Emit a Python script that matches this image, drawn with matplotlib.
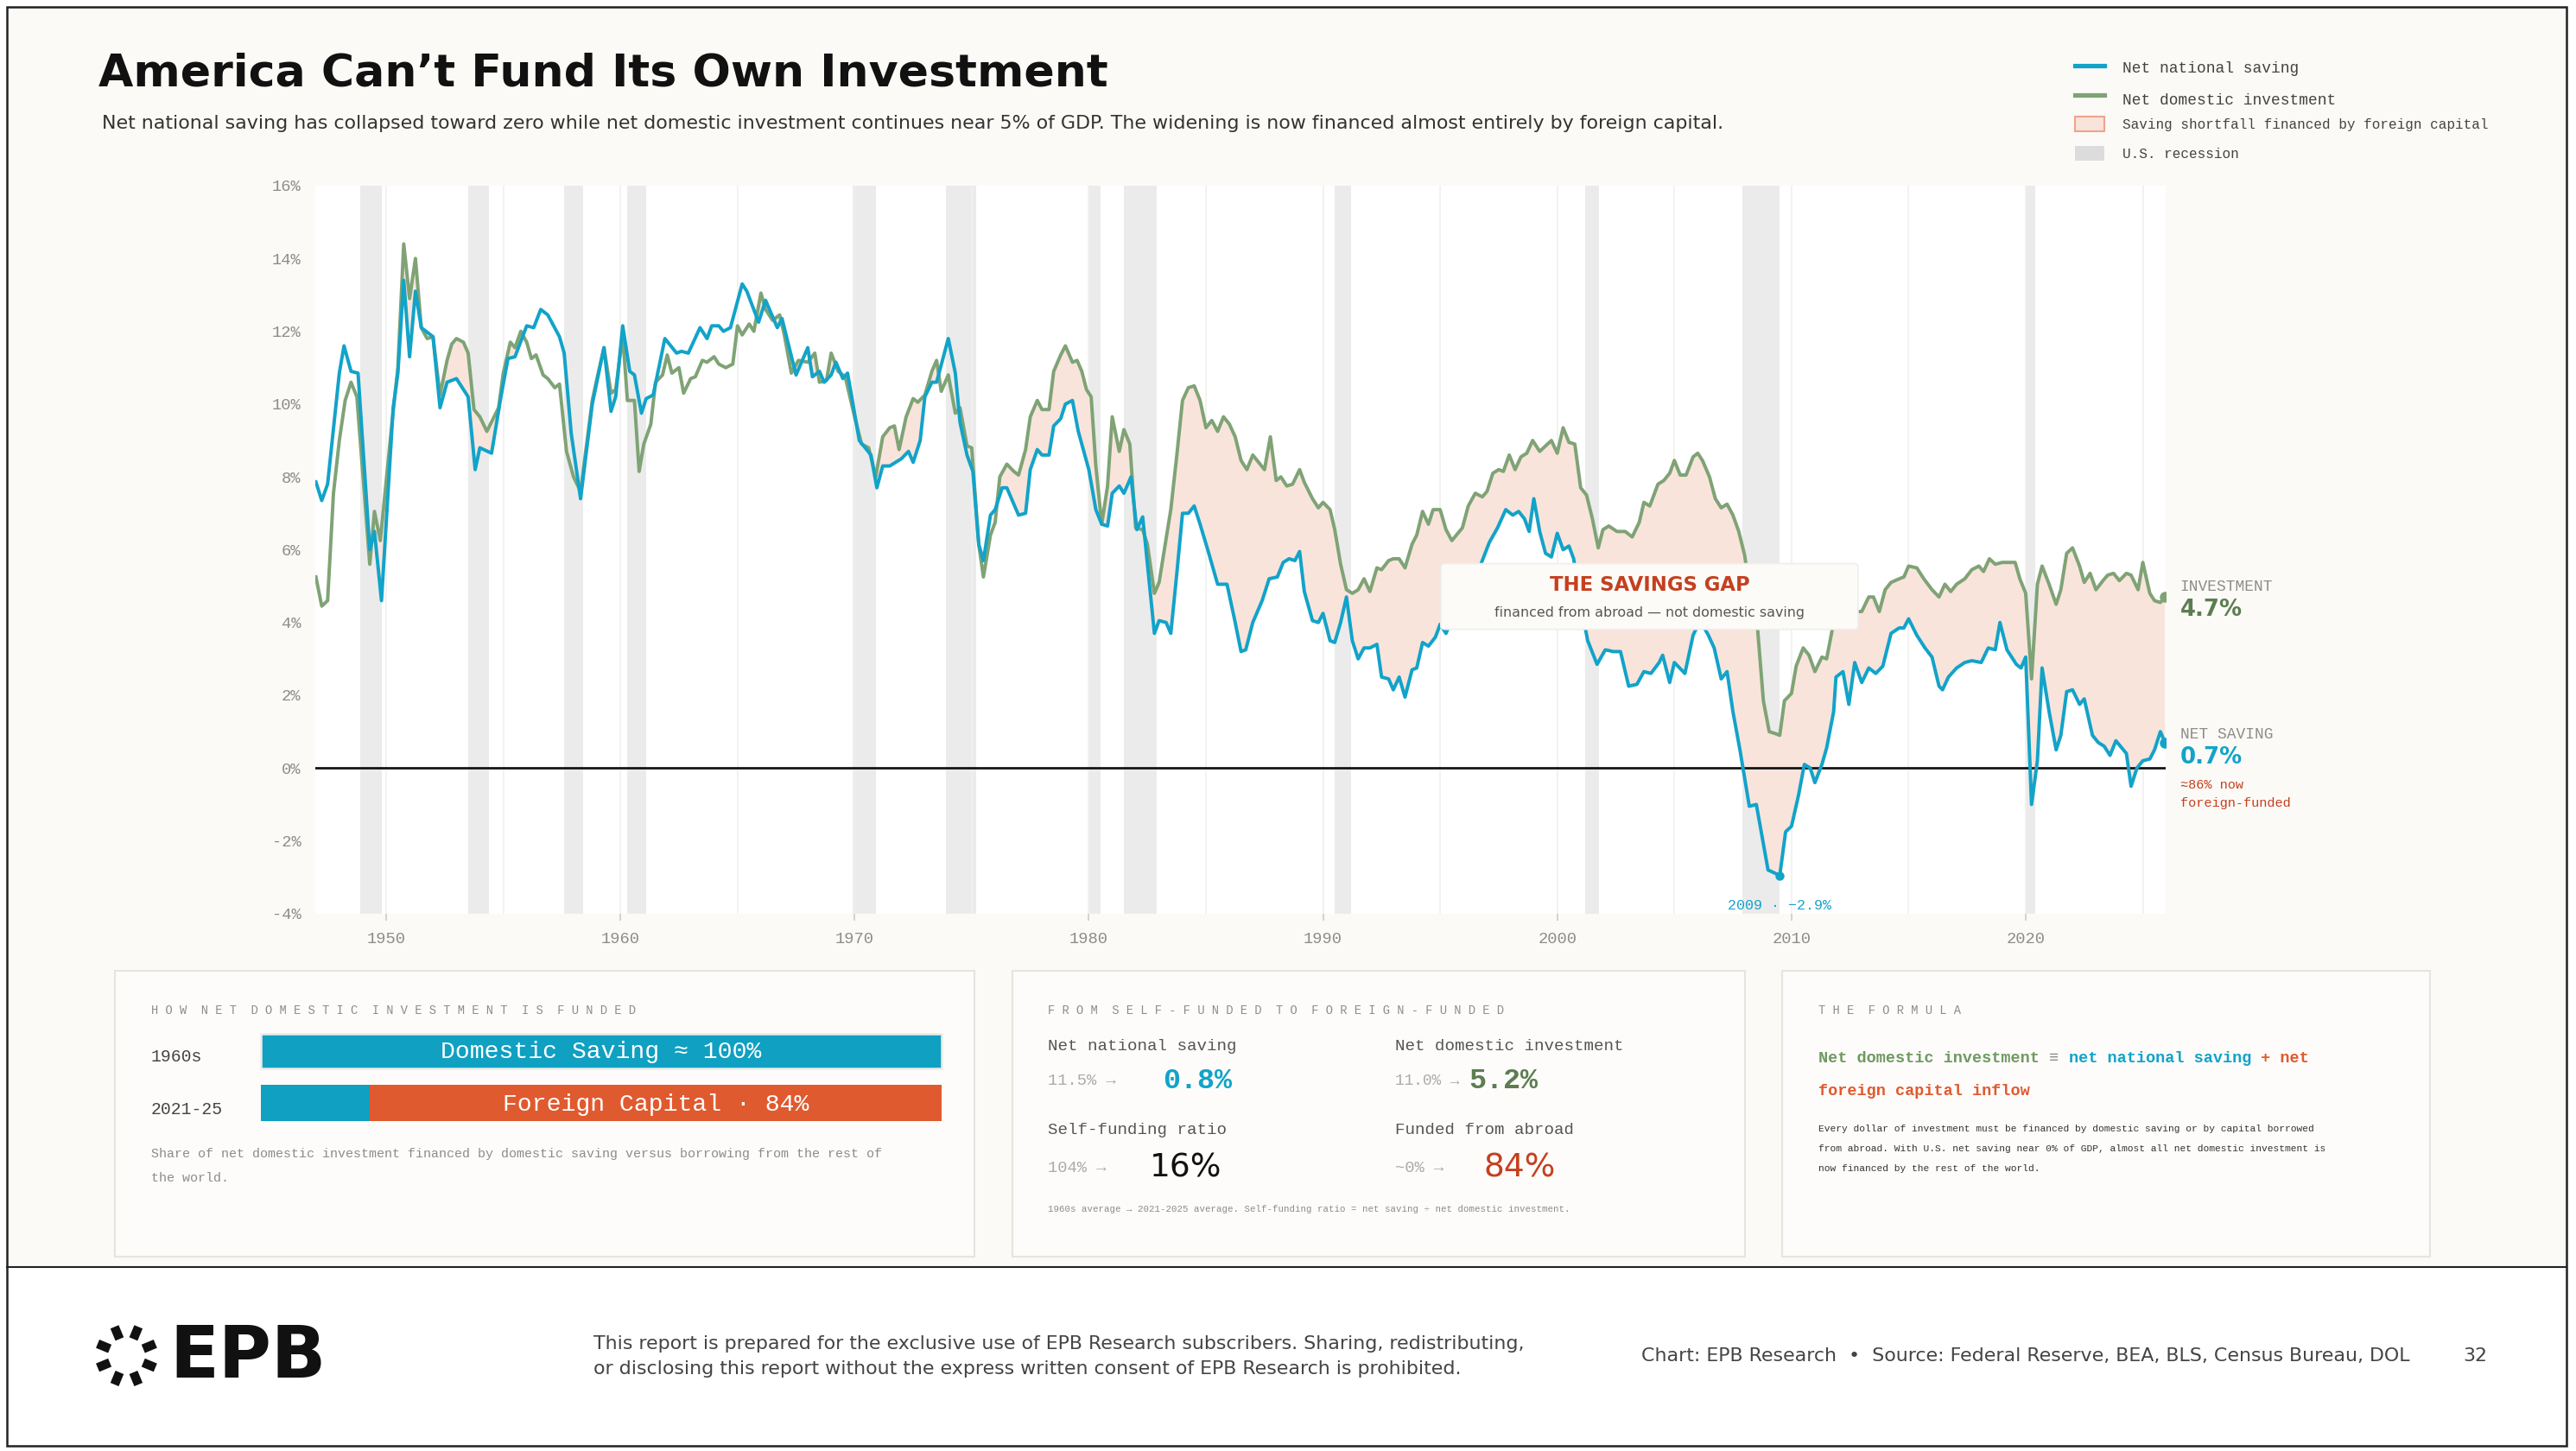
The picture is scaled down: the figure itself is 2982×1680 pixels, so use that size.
import numpy as np
import matplotlib
matplotlib.use("Agg")
import matplotlib.pyplot as plt
from matplotlib.patches import Rectangle, FancyBboxPatch

# ── Data (% of GDP) ────────────────────────────────────────────────────────────
SAV_X = [1947.0, 1947.25, 1947.5, 1948.0, 1948.2, 1948.5, 1948.8, 1949.3, 1949.5, 1949.8,
         1950.3, 1950.5, 1950.75, 1951.0, 1951.25, 1951.5, 1952.0, 1952.3, 1952.6, 1953.0,
         1953.5, 1953.8, 1954.0, 1954.5, 1954.9, 1955.2, 1955.5, 1956.0, 1956.3, 1956.6,
         1956.9, 1957.4, 1957.6, 1957.9, 1958.3, 1958.8, 1959.3, 1959.6, 1959.8, 1960.1,
         1960.4, 1960.6, 1960.9, 1961.1, 1961.4, 1961.9, 1962.4, 1962.6, 1962.9, 1963.4,
         1963.7, 1963.9, 1964.2, 1964.4, 1964.7, 1965.2, 1965.4, 1965.9, 1966.2, 1966.7,
         1966.9, 1967.5, 1968.0, 1968.2, 1968.5, 1968.7, 1969.0, 1969.2, 1969.5, 1969.7,
         1970.2, 1970.7, 1970.95, 1971.2, 1971.5, 1972.0, 1972.3, 1972.5, 1972.8, 1973.0,
         1973.3, 1973.5, 1974.0, 1974.3, 1974.5, 1974.8, 1975.05, 1975.3, 1975.5, 1975.8,
         1976.0, 1976.3, 1976.5, 1977.0, 1977.3, 1977.5, 1977.8, 1978.0, 1978.3, 1978.5,
         1978.8, 1979.0, 1979.3, 1979.55, 1980.0, 1980.3, 1980.55, 1980.8, 1981.0, 1981.3,
         1981.5, 1981.8, 1982.05, 1982.3, 1982.8, 1983.0, 1983.3, 1983.5, 1983.75, 1984.0,
         1984.25, 1984.5, 1984.75, 1985.1, 1985.5, 1985.9, 1986.25, 1986.5, 1986.7, 1987.0,
         1987.4, 1987.7, 1988.05, 1988.3, 1988.55, 1988.8, 1989.0, 1989.2, 1989.55, 1989.8,
         1990.0, 1990.3, 1990.5, 1990.75, 1991.0, 1991.25, 1991.5, 1991.75, 1992.0, 1992.3,
         1992.5, 1992.8, 1993.0, 1993.25, 1993.5, 1993.8, 1994.0, 1994.25, 1994.5, 1994.8,
         1995.0, 1995.25, 1995.5, 1996.0, 1996.5, 1997.1, 1997.45, 1997.8, 1998.1, 1998.35,
         1998.6, 1998.8, 1999.0, 1999.25, 1999.5, 1999.75, 2000.0, 2000.25, 2000.5, 2000.7,
         2001.0, 2001.3, 2001.7, 2002.05, 2002.4, 2002.7, 2003.05, 2003.4, 2003.7, 2004.0,
         2004.35, 2004.5, 2004.8, 2005.0, 2005.45, 2005.8, 2006.1, 2006.45, 2006.7, 2007.0,
         2007.25, 2007.5, 2007.8, 2008.2, 2008.5, 2009.0, 2009.5, 2009.75, 2010.0, 2010.3,
         2010.55, 2010.8, 2011.0, 2011.3, 2011.5, 2011.8, 2011.9, 2012.2, 2012.45, 2012.7,
         2013.0, 2013.3, 2013.6, 2013.9, 2014.25, 2014.6, 2014.8, 2015.0, 2015.35, 2015.7,
         2016.0, 2016.3, 2016.45, 2016.7, 2017.05, 2017.4, 2017.7, 2018.1, 2018.4, 2018.7,
         2018.9, 2019.2, 2019.6, 2019.8, 2020.0, 2020.25, 2020.5, 2020.7, 2021.0, 2021.3,
         2021.5, 2021.75, 2022.0, 2022.3, 2022.5, 2022.85, 2023.1, 2023.35, 2023.6, 2023.85,
         2024.3, 2024.5, 2024.75, 2025.0, 2025.3, 2025.5, 2025.75, 2025.95]
SAV_Y = [7.86, 7.35, 7.8, 10.85, 11.6, 10.9, 10.85, 6.0, 6.5, 4.6,
         9.9, 10.85, 13.4, 11.3, 13.1, 12.1, 11.85, 9.9, 10.6, 10.7,
         10.2, 8.2, 8.8, 8.65, 10.2, 11.25, 11.3, 12.15, 12.1, 12.6,
         12.45, 11.85, 11.4, 9.2, 7.4, 10.0, 11.55, 9.8, 10.2, 12.15,
         10.9, 10.8, 9.75, 10.15, 10.25, 11.8, 11.4, 11.45, 11.4, 12.1,
         11.8, 12.15, 12.15, 12.0, 12.1, 13.3, 13.1, 12.25, 12.85, 12.1,
         12.35, 10.8, 11.55, 10.75, 10.9, 10.6, 10.8, 11.15, 10.7, 10.85,
         9.0, 8.6, 7.7, 8.3, 8.3, 8.5, 8.7, 8.4, 9.0, 10.2,
         10.6, 10.6, 11.8, 10.85, 9.5, 8.6, 8.15, 6.15, 5.7, 6.95,
         7.1, 7.7, 7.7, 6.95, 7.0, 8.2, 8.75, 8.6, 8.6, 9.4,
         9.6, 10.0, 10.1, 9.25, 8.2, 7.1, 6.7, 6.65, 7.55, 7.75,
         7.55, 8.0, 6.55, 6.9, 3.7, 4.05, 4.0, 3.7, 5.3, 7.0,
         7.0, 7.2, 6.7, 5.95, 5.05, 5.05, 4.0, 3.2, 3.25, 4.0,
         4.6, 5.2, 5.25, 5.65, 5.75, 5.7, 5.95, 4.85, 4.05, 4.0,
         4.25, 3.5, 3.45, 4.0, 4.7, 3.5, 3.0, 3.3, 3.3, 3.4,
         2.5, 2.45, 2.15, 2.5, 1.95, 2.7, 2.75, 3.45, 3.35, 3.6,
         3.95, 3.7, 4.1, 4.6, 5.2, 6.2, 6.6, 7.1, 6.95, 7.05,
         6.85, 6.5, 7.4, 6.5, 5.9, 5.8, 6.45, 6.0, 6.1, 5.75,
         4.5, 3.5, 2.85, 3.25, 3.2, 3.2, 2.25, 2.3, 2.65, 2.6,
         2.9, 3.1, 2.35, 2.9, 2.6, 3.65, 4.05, 3.65, 3.3, 2.45,
         2.65, 1.55, 0.5, -1.05, -1.0, -2.8, -2.95, -1.75, -1.6, -0.75,
         0.1, 0.0, -0.4, 0.1, 0.55, 1.55, 2.5, 2.65, 1.75, 2.9,
         2.35, 2.75, 2.6, 2.8, 3.7, 3.85, 3.85, 4.1, 3.65, 3.3,
         3.05, 2.25, 2.15, 2.5, 2.75, 2.9, 2.95, 2.9, 3.3, 3.25,
         4.0, 3.25, 2.85, 2.75, 3.05, -1.0, 0.2, 2.75, 1.55, 0.5,
         0.9, 2.1, 2.15, 1.75, 1.9, 0.9, 0.7, 0.6, 0.35, 0.75,
         0.4, -0.5, 0.0, 0.2, 0.25, 0.5, 1.0, 0.7]

INV_X = [1947.0, 1947.25, 1947.5, 1947.75, 1948.0, 1948.25, 1948.5, 1948.75, 1949.3, 1949.5,
         1949.75, 1950.25, 1950.5, 1950.75, 1951.0, 1951.25, 1951.5, 1951.75, 1952.0, 1952.3,
         1952.6, 1952.8, 1953.0, 1953.3, 1953.5, 1953.75, 1954.0, 1954.3, 1954.8, 1955.0,
         1955.3, 1955.5, 1955.75, 1956.0, 1956.2, 1956.4, 1956.7, 1956.9, 1957.2, 1957.4,
         1957.7, 1958.0, 1958.3, 1958.8, 1959.0, 1959.3, 1959.6, 1959.8, 1960.1, 1960.3,
         1960.6, 1960.8, 1961.0, 1961.3, 1961.5, 1961.8, 1962.0, 1962.2, 1962.5, 1962.7,
         1963.0, 1963.2, 1963.5, 1963.7, 1964.0, 1964.2, 1964.5, 1964.8, 1965.0, 1965.2,
         1965.5, 1965.7, 1966.0, 1966.2, 1966.5, 1966.8, 1967.0, 1967.3, 1967.6, 1968.0,
         1968.3, 1968.5, 1968.8, 1969.0, 1969.3, 1969.6, 1970.0, 1970.3, 1970.6, 1970.9,
         1971.2, 1971.5, 1971.7, 1971.9, 1972.2, 1972.5, 1972.7, 1973.0, 1973.3, 1973.5,
         1973.7, 1974.0, 1974.3, 1974.5, 1974.8, 1975.0, 1975.3, 1975.5, 1975.8, 1976.0,
         1976.2, 1976.5, 1976.8, 1977.0, 1977.3, 1977.5, 1977.8, 1978.0, 1978.3, 1978.5,
         1978.8, 1979.0, 1979.3, 1979.5, 1979.7, 1979.9, 1980.1, 1980.3, 1980.55, 1980.8,
         1981.0, 1981.3, 1981.5, 1981.75, 1982.0, 1982.3, 1982.5, 1982.8, 1983.0, 1983.5,
         1983.75, 1984.0, 1984.25, 1984.5, 1984.75, 1985.0, 1985.25, 1985.5, 1985.75, 1986.0,
         1986.25, 1986.5, 1986.75, 1987.0, 1987.25, 1987.5, 1987.75, 1988.0, 1988.2, 1988.45,
         1988.7, 1989.0, 1989.2, 1989.55, 1989.8, 1990.0, 1990.3, 1990.5, 1990.75, 1991.0,
         1991.25, 1991.5, 1991.75, 1992.0, 1992.3, 1992.5, 1992.8, 1993.0, 1993.25, 1993.5,
         1993.8, 1994.0, 1994.25, 1994.5, 1994.7, 1995.0, 1995.25, 1995.5, 1995.95, 1996.2,
         1996.5, 1996.8, 1997.0, 1997.25, 1997.5, 1997.7, 1997.95, 1998.2, 1998.45, 1998.7,
         1998.95, 1999.25, 1999.5, 1999.75, 2000.0, 2000.25, 2000.5, 2000.75, 2001.0, 2001.25,
         2001.5, 2001.75, 2001.95, 2002.2, 2002.55, 2002.9, 2003.2, 2003.5, 2003.7, 2003.95,
         2004.3, 2004.55, 2004.8, 2005.0, 2005.25, 2005.5, 2005.8, 2006.0, 2006.2, 2006.5,
         2006.75, 2007.0, 2007.25, 2007.5, 2007.75, 2008.0, 2008.3, 2008.55, 2008.8, 2009.05,
         2009.3, 2009.5, 2009.7, 2010.0, 2010.2, 2010.5, 2010.75, 2011.0, 2011.3, 2011.5,
         2011.8, 2012.0, 2012.25, 2012.5, 2012.75, 2013.0, 2013.3, 2013.5, 2013.75, 2014.0,
         2014.25, 2014.6, 2014.8, 2015.0, 2015.35, 2015.65, 2016.0, 2016.3, 2016.55, 2016.8,
         2017.05, 2017.4, 2017.7, 2018.0, 2018.2, 2018.45, 2018.7, 2019.0, 2019.55, 2019.75,
         2020.0, 2020.25, 2020.5, 2020.7, 2021.0, 2021.3, 2021.5, 2021.75, 2022.0, 2022.3,
         2022.5, 2022.75, 2023.0, 2023.3, 2023.5, 2023.75, 2024.0, 2024.3, 2024.5, 2024.8,
         2025.0, 2025.3, 2025.5, 2025.75, 2025.95]
INV_Y = [5.25, 4.45, 4.6, 7.55, 9.0, 10.1, 10.6, 10.2, 5.6, 7.05,
         6.25, 9.5, 11.0, 14.4, 12.9, 14.0, 12.1, 11.8, 11.85, 10.25,
         11.2, 11.65, 11.8, 11.7, 11.4, 9.85, 9.65, 9.25, 9.9, 10.85,
         11.7, 11.55, 12.0, 11.7, 11.25, 11.35, 10.8, 10.7, 10.45, 10.55,
         8.7, 8.0, 7.6, 10.1, 10.7, 11.55, 10.3, 10.4, 11.9, 10.1,
         10.1, 8.15, 8.9, 9.45, 10.6, 10.8, 11.35, 10.85, 11.0, 10.3,
         10.7, 10.75, 11.2, 11.15, 11.3, 11.1, 11.0, 11.1, 12.15, 11.9,
         12.2, 12.0, 13.05, 12.6, 12.3, 12.45, 11.9, 10.85, 11.2, 11.15,
         11.4, 10.6, 10.65, 11.4, 10.9, 10.75, 9.65, 8.9, 8.8, 8.0,
         9.1, 9.35, 9.4, 8.75, 9.65, 10.15, 10.05, 10.25, 10.9, 11.2,
         10.35, 10.8, 9.75, 9.9, 8.85, 8.8, 6.15, 5.25, 6.4, 6.75,
         8.0, 8.35, 8.15, 8.05, 8.75, 9.65, 10.1, 9.85, 9.85, 10.9,
         11.35, 11.6, 11.15, 11.2, 10.9, 10.4, 10.2, 8.3, 6.7, 7.75,
         9.65, 8.7, 9.3, 8.9, 6.6, 6.55, 6.15, 4.8, 5.1, 7.1,
         8.55, 10.1, 10.45, 10.5, 10.1, 9.35, 9.55, 9.25, 9.65, 9.45,
         9.1, 8.45, 8.2, 8.6, 8.4, 8.2, 9.1, 7.9, 8.0, 7.75,
         7.8, 8.2, 7.85, 7.4, 7.15, 7.3, 7.1, 6.55, 5.6, 4.9,
         4.8, 4.9, 5.2, 4.85, 5.5, 5.45, 5.7, 5.75, 5.75, 5.5,
         6.15, 6.4, 7.05, 6.7, 7.1, 7.1, 6.55, 6.25, 6.6, 7.2,
         7.55, 7.45, 7.6, 8.1, 8.2, 8.15, 8.6, 8.2, 8.55, 8.65,
         9.0, 8.7, 8.85, 9.0, 8.65, 9.35, 8.95, 8.9, 7.7, 7.5,
         6.85, 6.05, 6.55, 6.65, 6.5, 6.5, 6.35, 6.75, 7.3, 7.2,
         7.8, 7.9, 8.1, 8.45, 8.05, 8.05, 8.55, 8.65, 8.45, 8.0,
         7.4, 7.15, 7.25, 6.95, 6.5, 5.85, 4.5, 3.85, 1.85, 1.0,
         0.95, 0.9, 1.85, 2.05, 2.8, 3.3, 3.1, 2.65, 3.05, 3.0,
         4.0, 4.05, 4.2, 3.9, 4.3, 4.3, 4.7, 4.7, 4.3, 4.9,
         5.1, 5.2, 5.25, 5.55, 5.5, 5.2, 4.9, 4.7, 5.05, 4.85,
         5.05, 5.2, 5.45, 5.55, 5.4, 5.75, 5.6, 5.65, 5.65, 5.2,
         4.8, 2.45, 5.05, 5.55, 5.05, 4.5, 4.9, 5.9, 6.05, 5.55,
         5.1, 5.35, 4.9, 5.15, 5.3, 5.35, 5.15, 5.35, 5.3, 4.9,
         5.65, 4.8, 4.6, 4.55, 4.7]

RECESSIONS = [(1948.9, 1949.8), (1953.5, 1954.4), (1957.6, 1958.4), (1960.3, 1961.1),
              (1969.9, 1970.9), (1973.9, 1975.2), (1980.0, 1980.5), (1981.5, 1982.9),
              (1990.5, 1991.2), (2001.2, 2001.8), (2007.9, 2009.5), (2020.0, 2020.4)]

YEAR_TICKS = [1950, 1960, 1970, 1980, 1990, 2000, 2010, 2020]
PCT_TICKS = [-4, -2, 0, 2, 4, 6, 8, 10, 12, 14, 16]

# ── Style ──────────────────────────────────────────────────────────────────────
BLUE = "#12a3c9"
GREEN = "#7fa375"
GREEN_DK = "#5d7d51"
FILL = "#f9e4dc"
RED = "#c4401f"
ORANGE = "#e05a2f"
GREY = "#8c8c88"
BG = "#fbfaf7"
MONO = "Liberation Mono"
SANS = "DejaVu Sans"

W, H = 1568, 883          # reference layout grid


def fx(x):
    return x / W


def fy(y):
    return 1 - y / H


fig = plt.figure(figsize=(19.88, 11.2), dpi=150)
fig.patch.set_facecolor("white")

# page background + frame
fig.patches.append(Rectangle((fx(4), fy(771)), fx(1558), 771 / H - 4 / H,
                             transform=fig.transFigure, facecolor=BG, edgecolor="none", zorder=-5))
fig.patches.append(Rectangle((fx(4), fy(880)), fx(1558), 876 / H,
                             transform=fig.transFigure, facecolor="none", edgecolor="#222222",
                             linewidth=1.2, zorder=-4))
fig.lines.append(plt.Line2D([fx(4), fx(1562)], [fy(771), fy(771)], transform=fig.transFigure,
                            color="#222222", linewidth=1.0))


def t(x, y, s, **kw):
    kw.setdefault("va", "center")
    kw.setdefault("family", MONO)
    return fig.text(fx(x), fy(y), s, **kw)


# ── Title block ────────────────────────────────────────────────────────────────
t(60, 45, "America Can\u2019t Fund Its Own Investment", family=SANS, fontsize=25,
  fontweight="bold", color="#111111")
t(62, 75, "Net national saving has collapsed toward zero while net domestic investment continues "
  "near 5% of GDP. The widening is now financed almost entirely by foreign capital.",
  family=SANS, fontsize=10.6, color="#333333")

# legend
for yy, col in [(40, BLUE), (58, GREEN)]:
    fig.lines.append(plt.Line2D([fx(1263), fx(1281)], [fy(yy), fy(yy)], transform=fig.transFigure,
                                color=col, linewidth=2.5))
fig.patches.append(Rectangle((fx(1263), fy(80)), fx(18), 9 / H, transform=fig.transFigure,
                             facecolor=FILL, edgecolor="#eea48e", linewidth=1))
fig.patches.append(Rectangle((fx(1263), fy(98)), fx(18), 9 / H, transform=fig.transFigure,
                             facecolor="#dcdcdc", edgecolor="none"))
t(1292, 42, "Net national saving", fontsize=8.6, color="#444444")
t(1292, 61, "Net domestic investment", fontsize=8.6, color="#444444")
t(1292, 76, "Saving shortfall financed by foreign capital", fontsize=7.7, color="#444444")
t(1292, 94, "U.S. recession", fontsize=7.7, color="#444444")

# ── Main chart ─────────────────────────────────────────────────────────────────
ax = fig.add_axes([fx(192), fy(556), fx(1318 - 192), (556 - 113) / H])
ax.set_facecolor("white")
ax.set_xlim(1946.98, 2025.96)
ax.set_ylim(-4, 16)

for a, b in RECESSIONS:
    ax.axvspan(a, b, color="#ebebeb", zorder=0, linewidth=0)
for yr in range(1950, 2026, 5):
    ax.axvline(yr, color="#f0f0ee", linewidth=0.8, zorder=0.5)

grid = np.union1d(SAV_X, INV_X)
s_i = np.interp(grid, SAV_X, SAV_Y)
i_i = np.interp(grid, INV_X, INV_Y)
ax.fill_between(grid, s_i, i_i, where=i_i >= s_i, interpolate=True, color=FILL,
                linewidth=0, zorder=1)
ax.axhline(0, color="#111111", linewidth=1.3, zorder=2)
ax.plot(INV_X, INV_Y, color=GREEN, linewidth=1.9, zorder=3)
ax.plot(SAV_X, SAV_Y, color=BLUE, linewidth=1.9, zorder=4)
ax.plot(INV_X[-1], INV_Y[-1], "o", color=GREEN, markersize=5, zorder=5)
ax.plot(SAV_X[-1], SAV_Y[-1], "o", color=BLUE, markersize=5, zorder=5)
imin = int(np.argmin(SAV_Y))
ax.plot(SAV_X[imin], SAV_Y[imin], "o", color=BLUE, markersize=4, zorder=5)

for s in ax.spines.values():
    s.set_visible(False)
ax.set_xticks(YEAR_TICKS)
ax.set_xticklabels([str(y) for y in YEAR_TICKS])
ax.set_yticks(PCT_TICKS)
ax.set_yticklabels([f"{v}%" for v in PCT_TICKS])
ax.tick_params(axis="x", length=4, color="#cccccc", labelsize=9, labelcolor=GREY, pad=6)
ax.tick_params(axis="y", length=0, labelsize=9, labelcolor=GREY, pad=8)
for lab in ax.get_xticklabels() + ax.get_yticklabels():
    lab.set_family(MONO)

# annotations
box = FancyBboxPatch((fx(877), fy(383)), fx(1131 - 877), 40 / H,
                     boxstyle="round,pad=0,rounding_size=0.002",
                     transform=fig.transFigure, facecolor="#fcfbf8", edgecolor="#eeeeea",
                     linewidth=0.8, zorder=10)
fig.patches.append(box)
t(1004, 356, "THE SAVINGS GAP", ha="center", family=SANS, fontsize=10.9, fontweight="bold",
  color=RED, zorder=11)
t(1004, 373, "financed from abroad \u2014 not domestic saving", ha="center", family=SANS,
  fontsize=7.6, color="#555555", zorder=11)
t(1083, 551, "2009 \u00b7 \u22122.9%", ha="center", fontsize=8, color=BLUE)

t(1327, 357, "INVESTMENT", fontsize=8.6, color=GREY)
t(1327, 371, f"{INV_Y[-1]:.1f}%", family=SANS, fontsize=12.5, fontweight="bold", color=GREEN_DK)
t(1327, 447, "NET SAVING", fontsize=8.6, color=GREY)
t(1327, 461, f"{SAV_Y[-1]:.1f}%", family=SANS, fontsize=12.5, fontweight="bold", color=BLUE)
t(1327, 478, "\u224886% now", fontsize=7.3, color=RED)
t(1327, 489, "foreign-funded", fontsize=7.3, color=RED)

# ── Bottom panels ──────────────────────────────────────────────────────────────
for x0, x1 in [(70, 593), (616, 1062), (1085, 1479)]:
    fig.patches.append(Rectangle((fx(x0), fy(765)), fx(x1 - x0), (765 - 591) / H,
                                 transform=fig.transFigure, facecolor="#fdfcfa",
                                 edgecolor="#e6e4de", linewidth=1.0))

# panel 1
t(92, 615, "H O W  N E T  D O M E S T I C  I N V E S T M E N T  I S  F U N D E D",
  fontsize=6.6, color=GREY)
t(92, 643, "1960s", fontsize=9.5, color="#444444")
t(92, 675, "2021-25", fontsize=9.5, color="#444444")
fig.patches.append(Rectangle((fx(159), fy(650)), fx(414), 21 / H, transform=fig.transFigure,
                             facecolor="#0fa0c2", edgecolor="#ecebe6", linewidth=1.2))
fig.patches.append(Rectangle((fx(159), fy(682)), fx(66), 22 / H, transform=fig.transFigure,
                             facecolor="#0fa0c2", edgecolor="none"))
fig.patches.append(Rectangle((fx(225), fy(682)), fx(348), 22 / H, transform=fig.transFigure,
                             facecolor=ORANGE, edgecolor="none"))
t(366, 640, "Domestic Saving \u2248 100%", ha="center", fontsize=13.5, color="white")
t(399, 672, "Foreign Capital \u00b7 84%", ha="center", fontsize=13.5, color="white")
t(92, 702, "Share of net domestic investment financed by domestic saving versus borrowing from the rest of",
  fontsize=7.2, color=GREY)
t(92, 717, "the world.", fontsize=7.2, color=GREY)

# panel 2
t(638, 615, "F R O M  S E L F - F U N D E D  T O  F O R E I G N - F U N D E D",
  fontsize=6.6, color=GREY)
t(638, 637, "Net national saving", fontsize=9.2, color="#555555")
t(849, 637, "Net domestic investment", fontsize=9.2, color="#555555")
t(638, 658, "11.5% \u2192", fontsize=9, color="#aaaaaa")
t(708, 658, "0.8%", fontsize=16, fontweight="bold", color=BLUE)
t(849, 658, "11.0% \u2192", fontsize=8.5, color="#aaaaaa")
t(894, 658, "5.2%", fontsize=16, fontweight="bold", color=GREEN_DK)
t(638, 688, "Self-funding ratio", fontsize=9.2, color="#555555")
t(849, 688, "Funded from abroad", fontsize=9.2, color="#555555")
t(638, 711, "104% \u2192", fontsize=9, color="#aaaaaa")
t(700, 711, "16%", family=SANS, fontsize=18, color="#111111")
t(849, 711, "~0% \u2192", fontsize=9, color="#aaaaaa")
t(903, 711, "84%", family=SANS, fontsize=18, color=RED)
t(638, 736, "1960s average \u2192 2021-2025 average. Self-funding ratio = net saving \u00f7 net domestic investment.",
  fontsize=5.2, color=GREY)

# panel 3
t(1107, 615, "T H E  F O R M U L A", fontsize=6.6, color=GREY)
renderer = fig.canvas.get_renderer()
xx = fx(1107)
for s, col in [("Net domestic investment", "#6f9a62"), (" \u2261 ", GREY),
               ("net national saving", BLUE), (" + net", ORANGE)]:
    tx = fig.text(xx, fy(644), s, family=MONO, fontsize=8.9, fontweight="bold", color=col,
                  va="center")
    bb = tx.get_window_extent(renderer)
    xx += bb.width / fig.bbox.width
t(1107, 664, "foreign capital inflow", fontsize=8.9, fontweight="bold", color=ORANGE)
for yy, s in [(687, "Every dollar of investment must be financed by domestic saving or by capital borrowed"),
              (699, "from abroad. With U.S. net saving near 0% of GDP, almost all net domestic investment is"),
              (711, "now financed by the rest of the world.")]:
    t(1107, yy, s, fontsize=5.4, color="#333333")

# ── Footer ─────────────────────────────────────────────────────────────────────
lax = fig.add_axes([fx(57), fy(845), fx(40), 40 / H])
lax.set_xlim(-1, 1)
lax.set_ylim(-1, 1)
lax.set_aspect("equal")
lax.axis("off")
for k in range(8):
    ang = np.pi / 8 + k * np.pi / 4
    lax.plot([0.55 * np.cos(ang), 0.95 * np.cos(ang)], [0.55 * np.sin(ang), 0.95 * np.sin(ang)],
             color="#111111", linewidth=5, solid_capstyle="butt")
t(103, 826, "EPB", family=SANS, fontsize=40, fontweight="bold", color="#111111")
t(361, 818, "This report is prepared for the exclusive use of EPB Research subscribers. Sharing, redistributing,",
  family=SANS, fontsize=10.6, color="#444444")
t(361, 833, "or disclosing this report without the express written consent of EPB Research is prohibited.",
  family=SANS, fontsize=10.6, color="#444444")
t(1467, 825, "Chart: EPB Research  \u2022  Source: Federal Reserve, BEA, BLS, Census Bureau, DOL",
  ha="right", family=SANS, fontsize=10.6, color="#444444")
t(1514, 825, "32", ha="right", family=SANS, fontsize=10.6, color="#444444")

fig.savefig("out.png", dpi=150, facecolor=fig.get_facecolor())
